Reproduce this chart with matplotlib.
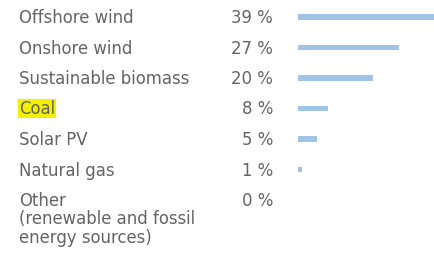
import matplotlib
matplotlib.use("Agg")
import matplotlib.pyplot as plt
import matplotlib.transforms as mtransforms

categories = [
    "Offshore wind",
    "Onshore wind",
    "Sustainable biomass",
    "Coal",
    "Solar PV",
    "Natural gas",
    "Other\n(renewable and fossil\nenergy sources)",
]
shares = [39, 27, 20, 8, 5, 1, 0]
highlight = "Coal"

W, H = 435, 255
fig = plt.figure(figsize=(W / 100, H / 100), dpi=100)
fig.patch.set_facecolor("white")

# bar area: starts at x=298 px, 3.75 px per percent, runs off the right edge
x0 = 298
px_per_pct = 3.75
ax = fig.add_axes([x0 / W, 0, 1 - x0 / W, 1])
ax.set_xlim(0, (W - x0) / px_per_pct)
row0, step = 18, 30.5
ax.set_ylim((H - row0) / step, -row0 / step)
ax.axis("off")

rows = list(range(len(categories)))
ax.barh(rows, shares, height=0.19, color="#a0c4e6", left=0)

text_color = "#646464"
font = "DejaVu Sans"
fs = 11.9
lab_tr = mtransforms.blended_transform_factory(fig.transFigure, ax.transData)
for i, (cat, val) in enumerate(zip(categories, shares)):
    lines = cat.split("\n")
    for j, line in enumerate(lines):
        kw = {}
        if line == highlight:
            kw["bbox"] = dict(boxstyle="square,pad=0.05", fc="#f2f200", ec="none")
        ax.text(19 / W, i + j * 18.5 / step, line, transform=lab_tr,
                ha="left", va="center", fontsize=fs, color=text_color,
                family=font, **kw)
    ax.text(273 / W, i, f"{val} %", transform=lab_tr, ha="right", va="center",
            fontsize=fs, color=text_color, family=font)

fig.savefig("out.png", dpi=100, facecolor="white")
